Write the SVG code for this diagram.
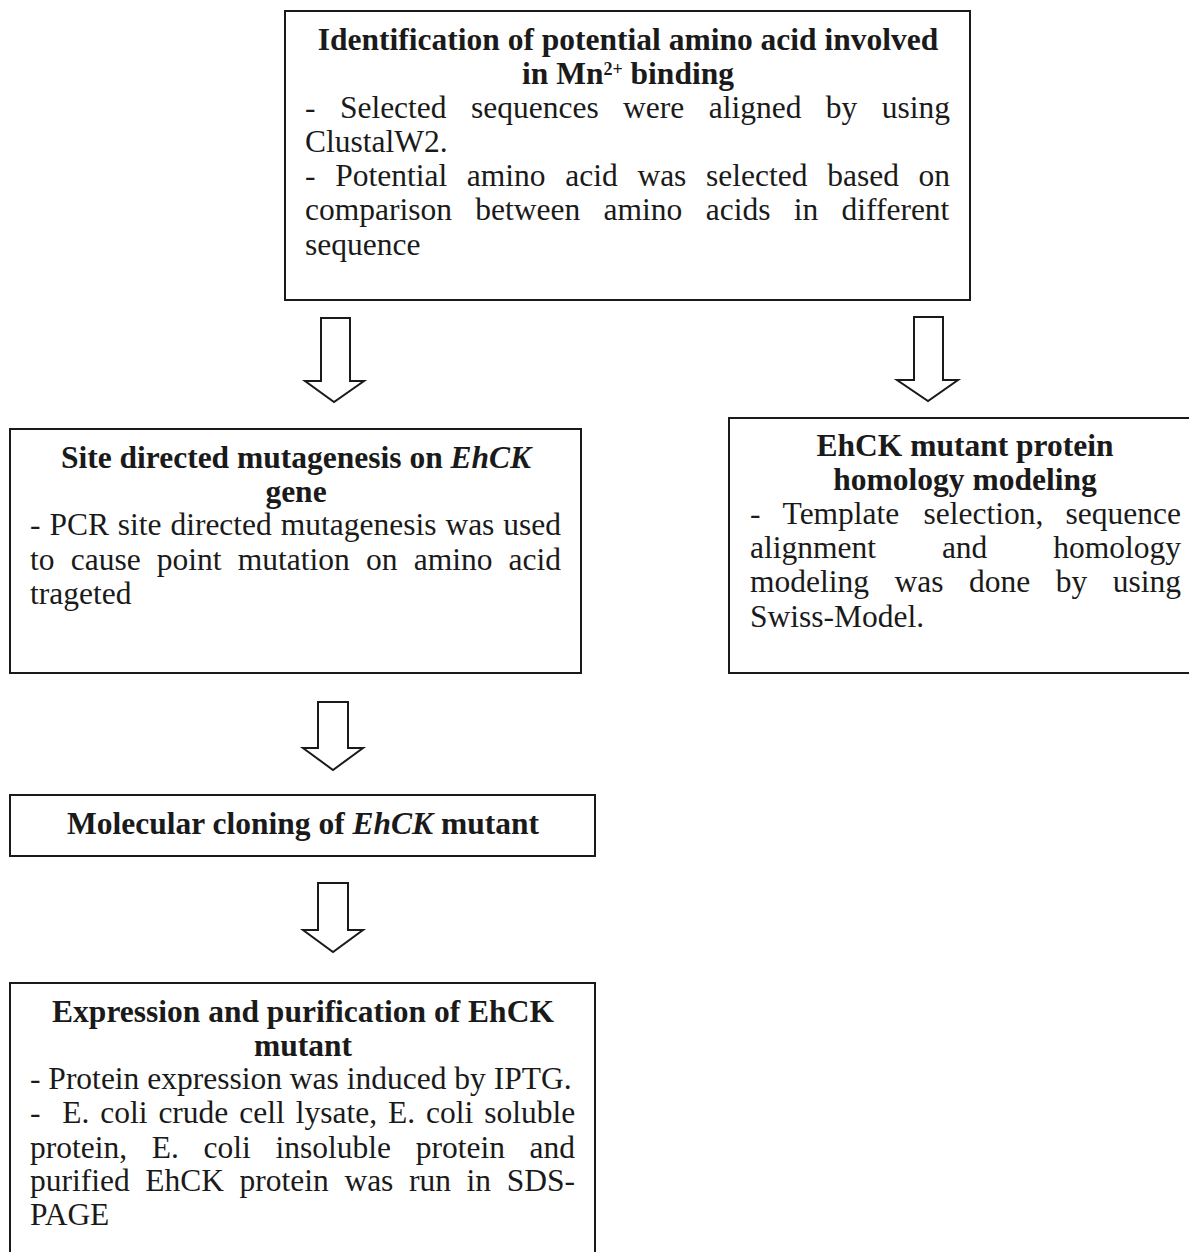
<svg xmlns="http://www.w3.org/2000/svg" width="1189" height="1252" viewBox="0 0 1189 1252">
<style>
.box{fill:#fff;stroke:#1a1a1a;stroke-width:2}
.arr{fill:#fff;stroke:#1a1a1a;stroke-width:2;stroke-linejoin:miter}
text{font-family:"Liberation Serif","Times New Roman",serif;font-size:31.5px;fill:#1a1a1a}
.t{font-weight:bold;text-anchor:middle}
</style>
<rect width="1189" height="1252" fill="#fff"/>
<g id="connectors">
<path class="arr" d="M321,318 H350 V381 H364 L334,402 L305,381 H321 Z"/>
<path class="arr" d="M914,317 H943 V380 H958 L928,401 L897,380 H914 Z"/>
<path class="arr" d="M318,702 H348 V748 H363 L333,770 L303,748 H318 Z"/>
<path class="arr" d="M318,883 H348 V930 H363 L333,952 L303,930 H318 Z"/>
</g>
<g id="n1">
<rect class="box" x="285" y="11" width="685" height="289"/>
<text class="t" x="628" y="50">Identification of potential amino acid involved</text>
<text class="t" x="628" y="84">in Mn<tspan font-size="18" dy="-9">2+</tspan><tspan dy="9"> binding</tspan></text>
<text y="118"><tspan x="305">-</tspan><tspan x="339.9">Selected</tspan><tspan x="471">sequences</tspan><tspan x="623.1">were</tspan><tspan x="708.7">aligned</tspan><tspan x="825.8">by</tspan><tspan x="881.7">using</tspan></text>
<text x="305" y="152">ClustalW2.</text>
<text y="186"><tspan x="305">-</tspan><tspan x="335.2">Potential</tspan><tspan x="466.8">amino</tspan><tspan x="565.2">acid</tspan><tspan x="637.4">was</tspan><tspan x="706">selected</tspan><tspan x="827.2">based</tspan><tspan x="918.5">on</tspan></text>
<text y="220"><tspan x="305">comparison</tspan><tspan x="475.3">between</tspan><tspan x="603.6">amino</tspan><tspan x="705.7">acids</tspan><tspan x="793.7">in</tspan><tspan x="841.5">different</tspan></text>
<text x="305" y="255">sequence</text>
</g>
<g id="n2">
<rect class="box" x="10" y="429" width="571" height="244"/>
<text class="t" x="296" y="468">Site directed mutagenesis on <tspan font-style="italic">EhCK</tspan></text>
<text class="t" x="296" y="502">gene</text>
<text y="535"><tspan x="30">-</tspan><tspan x="49.4">PCR</tspan><tspan x="117.8">site</tspan><tspan x="170.4">directed</tspan><tspan x="280.8">mutagenesis</tspan><tspan x="445.4">was</tspan><tspan x="503.3">used</tspan></text>
<text y="570"><tspan x="30">to</tspan><tspan x="70.7">cause</tspan><tspan x="156.8">point</tspan><tspan x="237.8">mutation</tspan><tspan x="366">on</tspan><tspan x="413.7">amino</tspan><tspan x="508.6">acid</tspan></text>
<text x="30" y="604">trageted</text>
</g>
<g id="n3">
<rect class="box" x="729" y="418" width="480" height="255"/>
<text class="t" x="965" y="456">EhCK mutant protein</text>
<text class="t" x="965" y="490">homology modeling</text>
<text y="524"><tspan x="750">-</tspan><tspan x="782.6">Template</tspan><tspan x="923.6">selection,</tspan><tspan x="1065.6">sequence</tspan></text>
<text y="558"><tspan x="750">alignment</tspan><tspan x="941.9">and</tspan><tspan x="1053.3">homology</tspan></text>
<text y="592"><tspan x="750">modeling</tspan><tspan x="894.5">was</tspan><tspan x="969">done</tspan><tspan x="1055.7">by</tspan><tspan x="1112.7">using</tspan></text>
<text x="750" y="627">Swiss-Model.</text>
</g>
<g id="n4">
<rect class="box" x="10" y="795" width="585" height="61"/>
<text class="t" x="303" y="834">Molecular cloning of <tspan font-style="italic">EhCK</tspan> mutant</text>
</g>
<g id="n5">
<rect class="box" x="10" y="983" width="585" height="290"/>
<text class="t" x="303" y="1022">Expression and purification of EhCK</text>
<text class="t" x="303" y="1056">mutant</text>
<text x="30" y="1089">- Protein expression was induced by IPTG.</text>
<text y="1123"><tspan x="30">-</tspan><tspan x="62.3">E.</tspan><tspan x="100.3">coli</tspan><tspan x="158.4">crude</tspan><tspan x="239.3">cell</tspan><tspan x="295.7">lysate,</tspan><tspan x="388">E.</tspan><tspan x="426">coli</tspan><tspan x="484.2">soluble</tspan></text>
<text y="1158"><tspan x="30">protein,</tspan><tspan x="151.8">E.</tspan><tspan x="203.6">coli</tspan><tspan x="275.5">insoluble</tspan><tspan x="415.7">protein</tspan><tspan x="529.6">and</tspan></text>
<text y="1191"><tspan x="30">purified</tspan><tspan x="145.3">EhCK</tspan><tspan x="239.6">protein</tspan><tspan x="344.4">was</tspan><tspan x="409">run</tspan><tspan x="466.6">in</tspan><tspan x="506.7">SDS-</tspan></text>
<text x="30" y="1225">PAGE</text>
</g>
</svg>
